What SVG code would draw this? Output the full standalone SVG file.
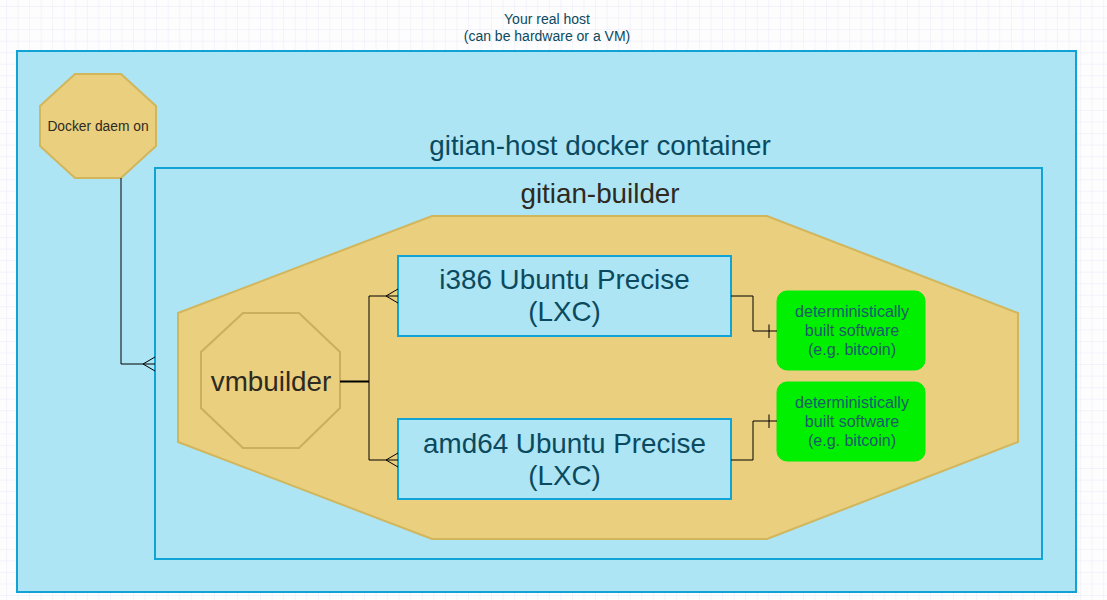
<svg xmlns="http://www.w3.org/2000/svg" width="1107" height="600" viewBox="0 0 1107 600">
<defs>
<pattern id="grid" x="6" y="6" width="11.55" height="11.55" patternUnits="userSpaceOnUse">
<path d="M0 0V11.55M0 0H11.55" fill="none" stroke="#ebe8fa" stroke-width="1"/>
</pattern>
<style>
.blue{fill:#ade5f5;stroke:#12a3d6;stroke-width:2}
.oct{fill:#e9cf7e;stroke:#d2b65c;stroke-width:2}
.green{fill:#00f000;stroke:#00ee00;stroke-width:1}
.t{font-family:"Liberation Sans",Arial,sans-serif;text-anchor:middle}
.teal{fill:#0b4a5e}
.dark{fill:#2e2a1f}
.gt{fill:#1c5a6a;font-size:16px}
.ln{fill:none;stroke:#000;stroke-width:1}
</style>
</defs>
<rect width="1107" height="600" fill="#fdfdfd"/>
<rect width="1107" height="600" fill="url(#grid)"/>
<g id="host">
<rect class="blue" x="17" y="51" width="1059" height="541"/>
<text class="t teal" x="547" y="24" font-size="14">Your real host</text>
<text class="t teal" x="547" y="41" font-size="14">(can be hardware or a VM)</text>
</g>
<g id="container">
<text class="t teal" x="600" y="155" font-size="27.8">gitian-host docker container</text>
<rect class="blue" x="155" y="168" width="887" height="391"/>
</g>
<g id="gitian-builder">
<text class="t dark" x="600" y="203" font-size="27.8">gitian-builder</text>
<polygon class="oct" points="432,216 767,216 1018,313 1018,442 767,539 432,539 178,442 178,313"/>
</g>
<g id="docker-daemon">
<polygon class="oct" points="75,74 121,74 156,106 156,146 121,178 75,178 40,146 40,106"/>
<text class="t dark" x="98" y="131" font-size="13.8">Docker daem on</text>
</g>
<g id="vmbuilder">
<polygon points="243,313 299,313 340,352 340,408 299,448 243,448 201,408 201,352" fill="#e9cf7e" stroke="#c9af5e" stroke-width="2"/>
<text class="t dark" x="271" y="391" font-size="27.8">vmbuilder</text>
</g>
<g id="i386">
<rect class="blue" x="398" y="256" width="333" height="80"/>
<text class="t teal" x="564.5" y="289" font-size="27.8">i386 Ubuntu Precise</text>
<text class="t teal" x="564.5" y="321" font-size="27.8">(LXC)</text>
</g>
<g id="amd64">
<rect class="blue" x="398" y="419" width="333" height="80"/>
<text class="t teal" x="564.5" y="453" font-size="27.8">amd64 Ubuntu Precise</text>
<text class="t teal" x="564.5" y="485" font-size="27.8">(LXC)</text>
</g>
<g id="software1">
<rect class="green" x="777" y="291" width="148" height="79" rx="10"/>
<text class="t gt" x="852" y="317">deterministically</text>
<text class="t gt" x="852" y="336">built software</text>
<text class="t gt" x="852" y="355">(e.g. bitcoin)</text>
</g>
<g id="software2">
<rect class="green" x="777" y="382" width="148" height="79" rx="10"/>
<text class="t gt" x="852" y="408">deterministically</text>
<text class="t gt" x="852" y="427">built software</text>
<text class="t gt" x="852" y="446">(e.g. bitcoin)</text>
</g>
<g id="connectors">
<path class="ln" d="M121 178V364H155M143 364L155 357M143 364L155 371"/>
<path d="M340 381.5H369" stroke="#000" stroke-width="2" fill="none"/>
<path class="ln" d="M369 296V460M369 296H398M386 296L398 289M386 296L398 303M369 460H398M386 460L398 453M386 460L398 467"/>
<path class="ln" d="M731 296H753V331H777M769 324.5V338"/>
<path class="ln" d="M731 460H753V421H777M769 414.5V428"/>
</g>
</svg>
